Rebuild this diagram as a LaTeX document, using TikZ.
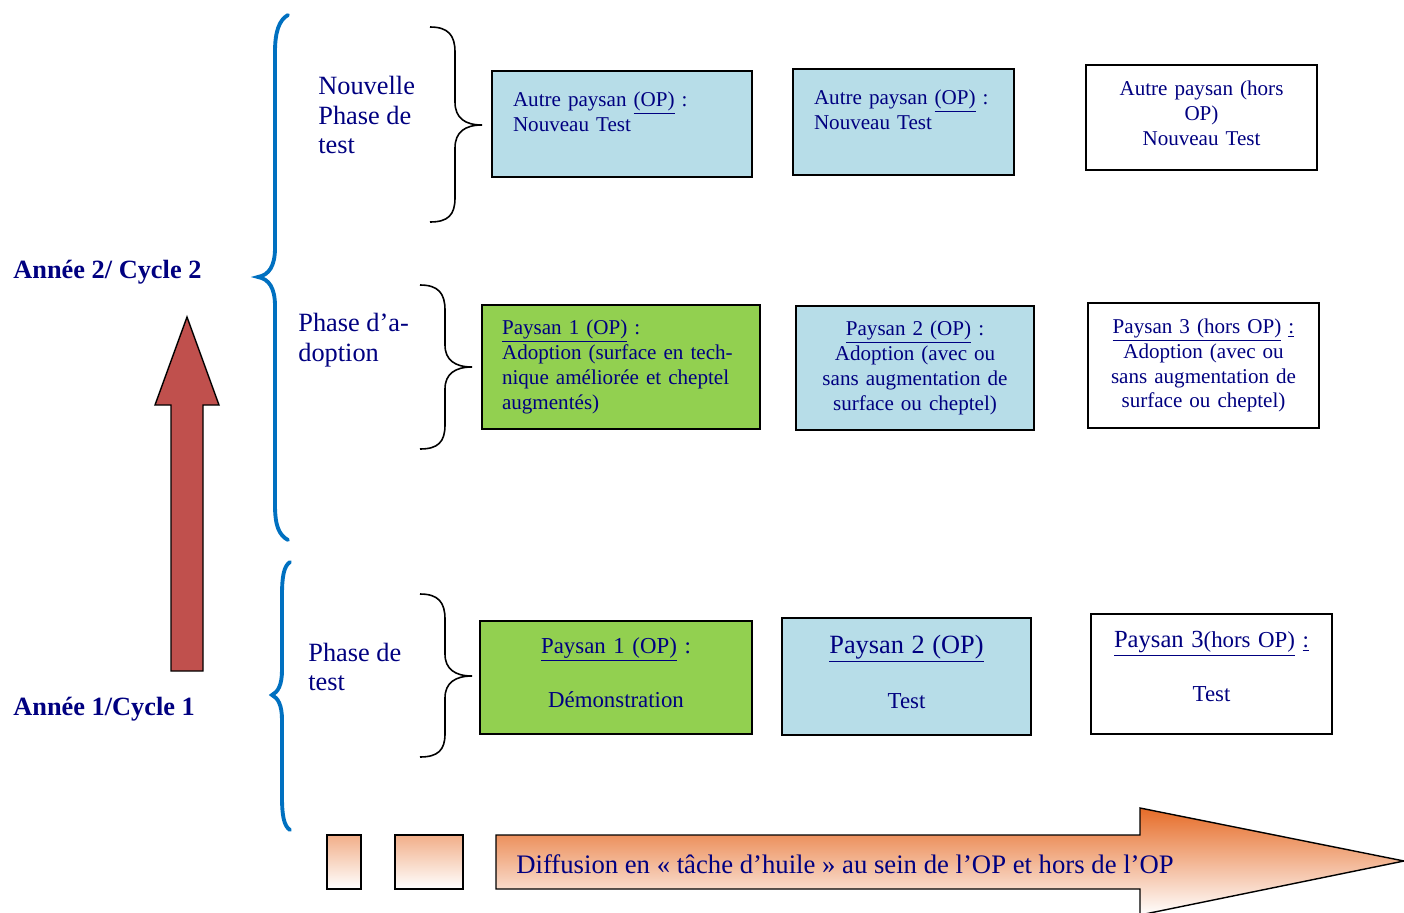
\documentclass[tikz,border=0pt]{standalone}
\usepackage{fontspec}
\setmainfont{Liberation Serif}
\usepackage{tikz}
\usetikzlibrary{positioning}
\definecolor{navytxt}{RGB}{0,0,128}
\definecolor{cellblue}{RGB}{183,221,232}
\definecolor{cellgreen}{RGB}{146,208,80}
\definecolor{bracebl}{RGB}{0,112,192}
\definecolor{arrowred}{RGB}{192,80,77}
\definecolor{oilorange}{RGB}{230,108,40}

\begin{document}
\begin{tikzpicture}[x=0.02cm, y=-0.02cm,
    box/.style={rectangle, draw=black, line width=1pt, text=navytxt, font=\fontsize{12}{14.2}\selectfont, inner xsep=0.2cm, inner ysep=0pt},
    phase/.style={text=navytxt, font=\fontsize{15}{17}\selectfont, align=left, inner sep=0pt, anchor=west},
    year/.style={text=navytxt, font=\fontsize{15}{17}\selectfont\bfseries, inner sep=0pt, anchor=west},
    bluebrace/.style={draw=bracebl, line width=2.2pt, line cap=round},
    blackbrace/.style={draw=black, line width=0.9pt},
    oil/.style={draw=black, line width=0.8pt, top color=oilorange!55, bottom color=white}
]
    \useasboundingbox (0,0) rectangle (1404,913);

    % years and phases
    \node[year] (annee2) at (13,272) {Année 2/ Cycle 2};
    \node[year] (annee1) at (13,709) {Année 1/Cycle 1};
    \node[phase] (nouvtest) at (318,115) {Nouvelle\\Phase de\\test};
    \node[phase] (adoption) at (298,340) {Phase d’a-\\doption};
    \node[phase] (phasetest) at (308,667) {Phase de\\test};

    \draw[bluebrace] (288,15) .. controls (279,20) and (275,32) .. (275,52) -- (275,248)
        .. controls (275,266) and (269,275) .. (258,277) .. controls (269,279) and (275,288) .. (275,306)
        -- (275,505) .. controls (275,526) and (279,535) .. (288,540);
    \draw[bluebrace] (290,562) .. controls (284,566) and (282,576) .. (282,595) -- (282,670)
        .. controls (282,685) and (278,692) .. (272,695) .. controls (278,698) and (282,705) .. (282,720)
        -- (282,797) .. controls (282,816) and (284,826) .. (290,830);

    \draw[blackbrace] (430,27) .. controls (448,27) and (455,35) .. (455,52) -- (455,102)
        .. controls (455,118) and (465,125) .. (482,125) .. controls (465,125) and (455,132) .. (455,148)
        -- (455,198) .. controls (455,215) and (448,222) .. (430,222);
    \draw[blackbrace] (420,285) .. controls (438,285) and (445,293) .. (445,310) -- (445,345)
        .. controls (445,360) and (455,367) .. (472,367) .. controls (455,367) and (445,374) .. (445,389)
        -- (445,425) .. controls (445,442) and (438,449) .. (420,449);
    \draw[blackbrace] (420,594) .. controls (438,594) and (445,602) .. (445,619) -- (445,654)
        .. controls (445,669) and (455,676) .. (472,676) .. controls (455,676) and (445,683) .. (445,698)
        -- (445,734) .. controls (445,750) and (438,757) .. (420,757);

    % cycle 2, test
    \node[box, fill=cellblue, minimum width=5.2cm, minimum height=2.12cm, inner xsep=0.42cm, text width=4.36cm, align=left] (autre1) at (622,124)
        {Autre paysan \underline{(OP)} :\\Nouveau Test\\\mbox{}};
    \node[box, fill=cellblue, minimum width=4.42cm, minimum height=2.12cm, inner xsep=0.42cm, text width=3.58cm, align=left] (autre2) at (903.5,122)
        {Autre paysan \underline{(OP)} :\\Nouveau Test\\\mbox{}};
    \node[box, fill=white, minimum width=4.62cm, minimum height=2.1cm, text width=4.22cm, align=center] (autre3) at (1201.5,117.5)
        {Autre paysan (hors\\OP)\\Nouveau Test\\[-9.5pt]\mbox{}};

    % cycle 2, adoption
    \node[box, fill=cellgreen, minimum width=5.56cm, minimum height=2.48cm, inner xsep=0.4cm, text width=4.76cm, align=left] (adopt1) at (621,367)
        {\underline{Paysan 1 (OP)} :\\Adoption (surface en tech-\\nique améliorée et cheptel\\augmentés)};
    \node[box, fill=cellblue, minimum width=4.76cm, minimum height=2.48cm, text width=4.36cm, align=center] (adopt2) at (915,368)
        {\underline{Paysan 2 (OP)} :\\Adoption (avec ou\\sans augmentation de\\surface ou cheptel)};
    \node[box, fill=white, minimum width=4.62cm, minimum height=2.5cm, text width=4.22cm, align=center] (adopt3) at (1203.5,365.5)
        {\underline{Paysan 3 (hors OP)} \underline{:}\\Adoption (avec ou\\sans augmentation de\\surface ou cheptel)};

    % cycle 1, test
    \node[box, fill=cellgreen, minimum width=5.44cm, minimum height=2.26cm, text width=5.04cm, align=center, font=\fontsize{13}{15.5}\selectfont] (demo1) at (616,677.5)
        {\underline{Paysan 1 (OP)} :\\[15.5pt]Démonstration\\[-10pt]\mbox{}};
    \node[box, fill=cellblue, minimum width=4.98cm, minimum height=2.34cm, text width=4.58cm, align=center, font=\fontsize{13}{15.5}\selectfont] (test2) at (906.5,676.5)
        {{\fontsize{15}{15.5}\selectfont\underline{Paysan 2 (OP)}}\\[16pt]Test\\[-10pt]\mbox{}};
    \node[box, fill=white, minimum width=4.82cm, minimum height=2.4cm, text width=4.42cm, align=center, font=\fontsize{13}{15.5}\selectfont] (test3) at (1211.5,674)
        {\underline{{\fontsize{14}{15.5}\selectfont Paysan 3}(hors OP)} \underline{:}\\[15pt]Test\\[-7pt]\mbox{}};

    % time arrow
    \draw[fill=arrowred, line width=0.8pt] (171,671) -- (171,405) -- (155,405) -- (187,317) -- (219,405) -- (203,405) -- (203,671) -- cycle;

    % diffusion arrow
    \path[oil] (327,835) rectangle (361,889);
    \path[oil] (395,835) rectangle (463,889);
    \path[oil, top color=oilorange] (496,835) -- (1140,835) -- (1140,808) -- (1404,861) -- (1140,915) -- (1140,889) -- (496,889) -- cycle;
    \node[phase, font=\fontsize{15.2}{17}\selectfont] (diffusion) at (516,864) {Diffusion en « tâche d’huile » au sein de l’OP et hors de l’OP};
\end{tikzpicture}
\end{document}
